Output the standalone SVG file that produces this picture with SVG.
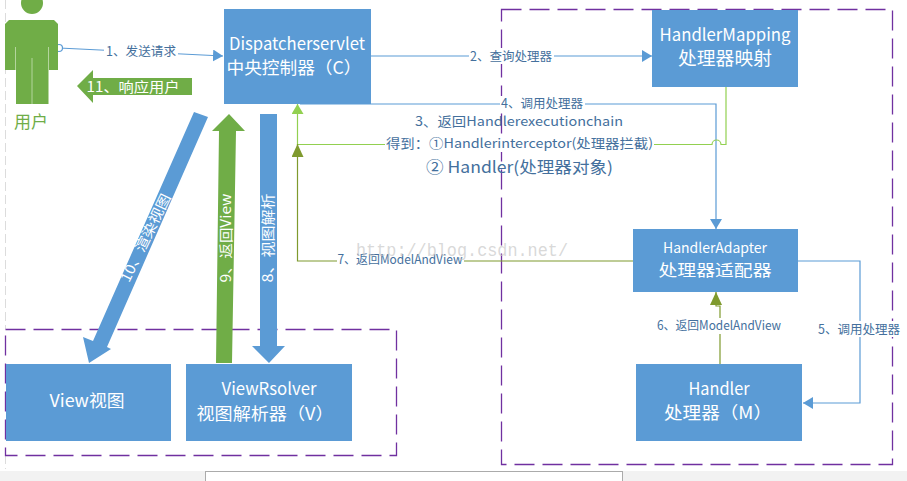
<svg xmlns="http://www.w3.org/2000/svg" width="907" height="481" viewBox="0 0 907 481">
<style>
text{font-family:"Noto Sans CJK SC","Liberation Sans",sans-serif}
.box{fill:#5b9bd5}
.t{fill:#fff;font-size:17px;text-anchor:middle}
.l{fill:#44709d;font-size:12.500px;text-anchor:middle}
.bg{fill:#fff}
.frame{fill:none;stroke:#7030a0;stroke-width:1.3;stroke-dasharray:20 8}
.c{fill:none;stroke-width:1.2}
.blue{stroke:#5b9bd5}.lime{stroke:#92d050}.olive{stroke:#7f9a2e}
</style>
<defs>
<marker id="ab" markerUnits="userSpaceOnUse" markerWidth="12" markerHeight="12" refX="10" refY="6" orient="auto"><path d="M0 0L10 6L0 12Z" fill="#5b9bd5"/></marker>
<marker id="al" markerUnits="userSpaceOnUse" markerWidth="12" markerHeight="12" refX="10" refY="6" orient="auto"><path d="M0 0L10 6L0 12Z" fill="#92d050"/></marker>
<marker id="ao" markerUnits="userSpaceOnUse" markerWidth="14" markerHeight="12" refX="13" refY="6" orient="auto"><path d="M0 0L13 6L0 12Z" fill="#7f9a2e"/></marker>
</defs>
<g id="page">
<rect x="0" y="471" width="907" height="10" fill="#f2f2f2"/>
<rect x="205.500" y="471.500" width="417" height="12" fill="#fff" stroke="#ababab"/>
<line x1="5.500" y1="0" x2="5.500" y2="329" stroke="#dcdcdc" stroke-dasharray="9 4"/>
<line x1="5.500" y1="455" x2="5.500" y2="469" stroke="#dcdcdc" stroke-dasharray="9 4"/>
</g>
<g id="frames">
<rect class="frame" x="501.500" y="9.500" width="391" height="455"/>
<rect class="frame" x="5.500" y="329.500" width="391" height="126"/>
</g>
<g id="connectors">
<path class="c blue" d="M371 56H652" marker-end="url(#ab)"/>
<path class="c blue" d="M59 48L223 56" marker-end="url(#ab)"/>
<circle cx="59" cy="48" r="3.500" fill="#fff" stroke="#5b9bd5" stroke-width="1.200"/>
<path class="c blue" d="M300 104H716V229" marker-end="url(#ab)"/>
<path class="c lime" d="M726 87V144.500H721A4 4 0 0 0 712 144.500H297.500V104" marker-end="url(#al)"/>
<path class="c olive" d="M633 261H297.500V144" marker-end="url(#ao)"/>
<path class="c blue" d="M798 261H860V403H803" marker-end="url(#ab)"/>
<path class="c olive" d="M720 364V306H716V292" marker-end="url(#ao)"/>
<rect class="bg" x="104" y="43" width="74" height="16"/>
<text class="l" x="141" y="56" textLength="70" lengthAdjust="spacingAndGlyphs">1、发送请求</text>
<rect class="bg" x="469" y="48" width="85" height="16"/>
<text class="l" x="511" y="60.500">2、查询处理器</text>
<rect class="bg" x="500" y="96" width="85" height="15"/>
<text class="l" x="542" y="107.500">4、调用处理器</text>
<rect class="bg" x="385" y="135" width="269" height="17"/>
<rect class="bg" x="337" y="253" width="127" height="15"/>
<text class="l" x="400" y="264" textLength="125" lengthAdjust="spacingAndGlyphs">7、返回ModelAndView</text>
<rect class="bg" x="817" y="321" width="84" height="16"/>
<text class="l" x="859" y="333.500">5、调用处理器</text>
<rect class="bg" x="656" y="318" width="126" height="16"/>
<text class="l" x="719" y="330" textLength="124" lengthAdjust="spacingAndGlyphs">6、返回ModelAndView</text>
<text class="l" x="519" y="126" style="font-size:13px" textLength="208" lengthAdjust="spacingAndGlyphs">3、返回Handlerexecutionchain</text>
<text class="l" x="519.500" y="148" style="font-size:13px" textLength="267" lengthAdjust="spacingAndGlyphs">得到：①Handlerinterceptor(处理器拦截)</text>
<text class="l" x="519.500" y="173" style="font-size:16px" textLength="187" lengthAdjust="spacingAndGlyphs">② Handler(处理器对象)</text>
</g>
<g id="user">
<circle cx="32" cy="3" r="11" fill="#70ad47"/>
<path d="M5 24L9 20H54L58 24V70H48.500V104H16V70H5Z" fill="#70ad47"/>
<path d="M15.500 47V70M48.500 47V70M32 58V104" stroke="#c5dfb4" stroke-width="0.800" fill="none"/>
<text x="31" y="128" font-size="17" fill="#70ad47" text-anchor="middle">用户</text>
</g>
<g id="dispatcher">
<rect class="box" x="224" y="9" width="147" height="95"/>
<text class="t" x="297" y="50" textLength="136" lengthAdjust="spacingAndGlyphs">Dispatcherservlet</text>
<text class="t" x="294" y="74" textLength="135" lengthAdjust="spacingAndGlyphs">中央控制器（C）</text>
</g>
<g id="handler-mapping">
<rect class="box" x="652" y="10" width="146" height="77"/>
<text class="t" x="725" y="41" textLength="131" lengthAdjust="spacingAndGlyphs">HandlerMapping</text>
<text class="t" x="725" y="65" textLength="94" lengthAdjust="spacingAndGlyphs" style="font-size:18.500px">处理器映射</text>
</g>
<g id="handler-adapter">
<rect class="box" x="633" y="229" width="165" height="63"/>
<text class="t" x="715" y="253" style="font-size:14px" textLength="104" lengthAdjust="spacingAndGlyphs">HandlerAdapter</text>
<text class="t" x="715" y="276" style="font-size:16px" textLength="113" lengthAdjust="spacingAndGlyphs">处理器适配器</text>
</g>
<g id="handler">
<rect class="box" x="636" y="364" width="166" height="77"/>
<text class="t" x="719" y="395" textLength="61" lengthAdjust="spacingAndGlyphs">Handler</text>
<text class="t" x="718" y="419" textLength="108" lengthAdjust="spacingAndGlyphs">处理器（M）</text>
</g>
<g id="view">
<rect class="box" x="6" y="364" width="165" height="77"/>
<text class="t" x="87" y="407" textLength="75" lengthAdjust="spacingAndGlyphs">View视图</text>
</g>
<g id="view-resolver">
<rect class="box" x="186" y="364" width="166" height="77"/>
<text class="t" x="269" y="395" textLength="95" lengthAdjust="spacingAndGlyphs">ViewRsolver</text>
<text class="t" x="265" y="420" textLength="137" lengthAdjust="spacingAndGlyphs">视图解析器（V）</text>
</g>
<g id="block-arrows">
<path d="M77 86L93 70V78H192V95H93V103Z" fill="#70ad47"/>
<text x="133" y="92" font-size="14" fill="#fff" text-anchor="middle" textLength="93" lengthAdjust="spacingAndGlyphs">11、响应用户</text>
<path d="M194 112L208 117L107 347L111 349L89 363L83 337L93 341Z" fill="#5b9bd5"/>
<text transform="translate(150 240) rotate(-64)" font-size="14" fill="#fff" text-anchor="middle" textLength="96" lengthAdjust="spacingAndGlyphs">10、渲染视图</text>
<path d="M229 114L245 131H236L232 363H216L219 131H212Z" fill="#70ad47"/>
<text transform="translate(231 238) rotate(-90)" font-size="14" fill="#fff" text-anchor="middle" textLength="89" lengthAdjust="spacingAndGlyphs">9、返回View</text>
<path d="M260 114H277V346H285L269 363L252 346H260Z" fill="#5b9bd5"/>
<text transform="translate(273 238) rotate(-90)" font-size="14" fill="#fff" text-anchor="middle" textLength="89" lengthAdjust="spacingAndGlyphs">8、视图解析</text>
</g>
<text x="462" y="256" text-anchor="middle" font-size="18" fill="#c8c8c8" fill-opacity="0.7" textLength="212" lengthAdjust="spacingAndGlyphs" style="font-family:'Liberation Mono',monospace">http://blog.csdn.net/</text>
</svg>
